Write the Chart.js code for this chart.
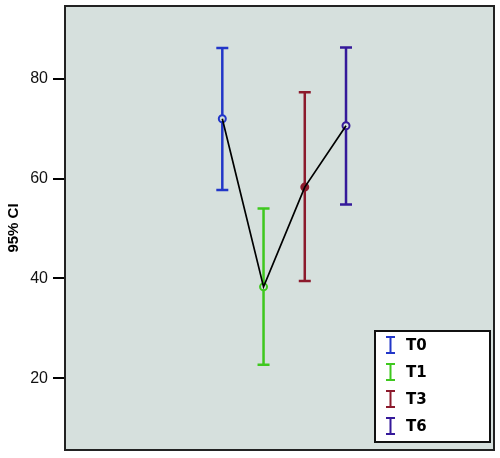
<!DOCTYPE html>
<html>
<head>
<meta charset="utf-8">
<script src="https://cdn.jsdelivr.net/npm/chart.js@4/dist/chart.umd.min.js"></script>
<style>
  html, body { margin: 0; padding: 0; background: #ffffff; }
  canvas { display: block; }
</style>
</head>
<body>
<canvas id="c" width="500" height="458"></canvas>
<script>
// ---- data ----
const categories = ['T0', 'T1', 'T3', 'T6'];
const means   = [72.0, 38.3, 58.3, 70.6];
const lowerCI = [57.7, 22.7, 39.5, 54.8];
const upperCI = [86.2, 54.0, 77.3, 86.3];
const yTicks  = [20, 40, 60, 80];
const yTitle  = '95% CI';

// ---- styles ----
const seriesColors = ['#2236c8', '#3ec81e', '#8c1a2c', '#35199a'];
const filledMarker = [false, false, true, false];
const plotBg = '#d6e0dd';

const points = means.map((m, i) => ({ x: i + 1, y: m }));

const bgPlugin = {
  id: 'bg',
  beforeDraw(chart) {
    const { ctx, chartArea: a } = chart;
    ctx.save();
    ctx.fillStyle = '#ffffff';
    ctx.fillRect(0, 0, chart.width, chart.height);
    ctx.fillStyle = plotBg;
    ctx.fillRect(a.left, a.top, a.right - a.left, a.bottom - a.top);
    ctx.restore();
  }
};

const errorBarPlugin = {
  id: 'errbars',
  beforeDatasetsDraw(chart) {
    const { ctx } = chart;
    const xs = chart.scales.x, ys = chart.scales.y;
    ctx.save();
    categories.forEach((c, i) => {
      const px = xs.getPixelForValue(i + 1);
      const lo = ys.getPixelForValue(lowerCI[i]);
      const hi = ys.getPixelForValue(upperCI[i]);
      ctx.strokeStyle = seriesColors[i];
      ctx.lineWidth = 2.5;
      ctx.beginPath();
      ctx.moveTo(px, lo); ctx.lineTo(px, hi);
      ctx.moveTo(px - 6, lo); ctx.lineTo(px + 6, lo);
      ctx.moveTo(px - 6, hi); ctx.lineTo(px + 6, hi);
      ctx.stroke();
    });
    ctx.restore();
  }
};

const framePlugin = {
  id: 'frame',
  afterDraw(chart) {
    const { ctx, chartArea: a } = chart;
    ctx.save();
    ctx.strokeStyle = '#222';
    ctx.lineWidth = 2;
    ctx.strokeRect(a.left, a.top, a.right - a.left, a.bottom - a.top);

    // legend box
    const x0 = a.right - 119, y0 = a.bottom - 119, w = 115, h = 111;
    ctx.fillStyle = '#ffffff';
    ctx.fillRect(x0, y0, w, h);
    ctx.strokeStyle = '#111';
    ctx.lineWidth = 2;
    ctx.strokeRect(x0, y0, w, h);
    ctx.font = 'bold 15px "DejaVu Sans", Verdana, sans-serif';
    ctx.textBaseline = 'middle';
    ctx.textAlign = 'left';
    categories.forEach((c, i) => {
      const cy = y0 + 14 + i * 27;
      const sx = x0 + 15.5;
      ctx.strokeStyle = seriesColors[i];
      ctx.lineWidth = 2;
      ctx.beginPath();
      ctx.moveTo(sx, cy - 8); ctx.lineTo(sx, cy + 8);
      ctx.moveTo(sx - 4.5, cy - 8); ctx.lineTo(sx + 4.5, cy - 8);
      ctx.moveTo(sx - 4.5, cy + 8); ctx.lineTo(sx + 4.5, cy + 8);
      ctx.stroke();
      ctx.fillStyle = '#000';
      ctx.fillText(c, x0 + 31, cy + 1);
    });
    ctx.restore();
  }
};

new Chart(document.getElementById('c'), {
  type: 'scatter',
  data: {
    datasets: [
      {
        type: 'line',
        label: 'mean line',
        data: points,
        borderColor: '#000',
        borderWidth: 1.7,
        pointRadius: 0,
        tension: 0,
        fill: false,
        order: 0
      },
      {
        type: 'scatter',
        label: 'means',
        data: points,
        pointRadius: 3.5,
        pointBorderWidth: 2,
        pointBorderColor: seriesColors,
        pointBackgroundColor: seriesColors.map((c, i) => filledMarker[i] ? c : plotBg),
        order: 1
      }
    ]
  },
  options: {
    responsive: false,
    animation: false,
    layout: { padding: { left: 0, top: 6, right: 5, bottom: 8 } },
    plugins: { legend: { display: false }, tooltip: { enabled: false } },
    scales: {
      x: { type: 'linear', display: false, min: -2.815, max: 7.589 },
      y: {
        type: 'linear',
        min: 5.6,
        max: 94.6,
        afterBuildTicks: (s) => { s.ticks = yTicks.map(v => ({ value: v })); },
        afterFit: (s) => { s.width = 65; s.paddingTop = 0; s.paddingBottom = 0; },
        ticks: {
          font: { family: '"Liberation Sans", Arial, sans-serif', size: 16 },
          color: '#111',
          padding: 5
        },
        grid: { drawOnChartArea: false, tickLength: 12, color: '#000', lineWidth: 2 },
        border: { display: true, color: '#000', width: 2 },
        title: {
          display: true,
          text: yTitle,
          color: '#000',
          font: { family: '"Liberation Sans", Arial, sans-serif', size: 15, weight: 'bold' },
          padding: { top: 5, bottom: 0 }
        }
      }
    }
  },
  plugins: [bgPlugin, errorBarPlugin, framePlugin]
});
</script>
</body>
</html>
